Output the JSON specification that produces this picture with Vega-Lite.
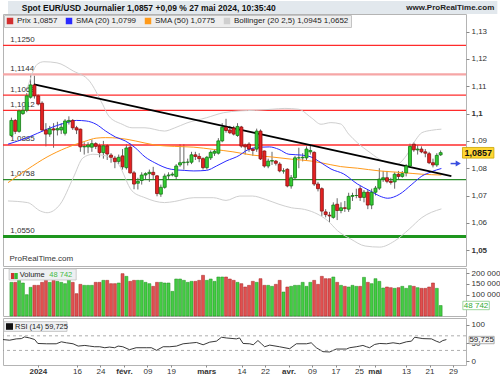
{
"$schema": "https://vega.github.io/schema/vega-lite/v6.json",
"padding": 0,
"background": "white",
"spacing": 0,
"data": {"values": [{"one": 1}]},
"config": {"font": "Liberation Sans", "view": {"stroke": "#b4b4b4", "strokeWidth": 1}, "axis": {"labelOverlap": false, "labelFlush": false, "labelBound": false}},
"datasets": {
"candles": [
{"i":-7,"o":1.0920,"h":1.0985,"l":1.0915,"c":1.0975,"v":156600},
{"i":-6,"o":1.0975,"h":1.0980,"l":1.0925,"c":1.0935,"v":156600},
{"i":-5,"o":1.0935,"h":1.1015,"l":1.0930,"c":1.1010,"v":165900},
{"i":-4,"o":1.1000,"h":1.1025,"l":1.0995,"c":1.1012,"v":153500},
{"i":-3,"o":1.1012,"h":1.1075,"l":1.1005,"c":1.1065,"v":99200},
{"i":-2,"o":1.1060,"h":1.1140,"l":1.1055,"c":1.1105,"v":133300},
{"i":-1,"o":1.1105,"h":1.1139,"l":1.1055,"c":1.1065,"v":142600},
{"i":0,"o":1.1065,"h":1.1070,"l":1.1030,"c":1.1035,"v":142600},
{"i":1,"o":1.1038,"h":1.1045,"l":1.0935,"c":1.0940,"v":156600},
{"i":2,"o":1.0940,"h":1.0965,"l":1.0880,"c":1.0925,"v":165900},
{"i":3,"o":1.0925,"h":1.0955,"l":1.0915,"c":1.0944,"v":156600},
{"i":4,"o":1.0944,"h":1.0965,"l":1.0875,"c":1.0940,"v":165900},
{"i":5,"o":1.0940,"h":1.0970,"l":1.0920,"c":1.0945,"v":161200},
{"i":6,"o":1.0940,"h":1.0965,"l":1.0925,"c":1.0950,"v":156600},
{"i":7,"o":1.0928,"h":1.0980,"l":1.0920,"c":1.0973,"v":150400},
{"i":8,"o":1.0970,"h":1.0990,"l":1.0960,"c":1.0975,"v":169000},
{"i":9,"o":1.0975,"h":1.0980,"l":1.0940,"c":1.0948,"v":156600},
{"i":10,"o":1.0948,"h":1.0955,"l":1.0925,"c":1.0940,"v":103900},
{"i":11,"o":1.0943,"h":1.0945,"l":1.0860,"c":1.0878,"v":147300},
{"i":12,"o":1.0878,"h":1.0895,"l":1.0850,"c":1.0880,"v":142600},
{"i":13,"o":1.0878,"h":1.0895,"l":1.0855,"c":1.0885,"v":142600},
{"i":14,"o":1.0877,"h":1.0905,"l":1.0860,"c":1.0890,"v":142600},
{"i":15,"o":1.0890,"h":1.0895,"l":1.0870,"c":1.0880,"v":156600},
{"i":16,"o":1.0882,"h":1.0890,"l":1.0840,"c":1.0857,"v":156600},
{"i":17,"o":1.0857,"h":1.0900,"l":1.0835,"c":1.0882,"v":165900},
{"i":18,"o":1.0882,"h":1.0888,"l":1.0830,"c":1.0852,"v":165900},
{"i":19,"o":1.0848,"h":1.0855,"l":1.0820,"c":1.0840,"v":150400},
{"i":20,"o":1.0837,"h":1.0845,"l":1.0800,"c":1.0824,"v":150400},
{"i":21,"o":1.0825,"h":1.0850,"l":1.0815,"c":1.0840,"v":153500},
{"i":22,"o":1.0845,"h":1.0870,"l":1.0795,"c":1.0805,"v":196900},
{"i":23,"o":1.0802,"h":1.0888,"l":1.0795,"c":1.0874,"v":184500},
{"i":24,"o":1.0877,"h":1.0890,"l":1.0780,"c":1.0783,"v":161200},
{"i":25,"o":1.0783,"h":1.0790,"l":1.0723,"c":1.0742,"v":165900},
{"i":26,"o":1.0745,"h":1.0765,"l":1.0722,"c":1.0752,"v":165900},
{"i":27,"o":1.0755,"h":1.0785,"l":1.0740,"c":1.0775,"v":165900},
{"i":28,"o":1.0775,"h":1.0785,"l":1.0760,"c":1.0780,"v":156600},
{"i":29,"o":1.0780,"h":1.0795,"l":1.0750,"c":1.0785,"v":150400},
{"i":30,"o":1.0785,"h":1.0805,"l":1.0760,"c":1.0776,"v":138000},
{"i":31,"o":1.0772,"h":1.0775,"l":1.0697,"c":1.0707,"v":156600},
{"i":32,"o":1.0705,"h":1.0740,"l":1.0695,"c":1.0730,"v":156600},
{"i":33,"o":1.0730,"h":1.0780,"l":1.0725,"c":1.0771,"v":153500},
{"i":34,"o":1.0772,"h":1.0785,"l":1.0760,"c":1.0775,"v":153500},
{"i":35,"o":1.0775,"h":1.0785,"l":1.0770,"c":1.0778,"v":114700},
{"i":36,"o":1.0770,"h":1.0815,"l":1.0760,"c":1.0808,"v":172100},
{"i":37,"o":1.0812,"h":1.0888,"l":1.0805,"c":1.0820,"v":172100},
{"i":38,"o":1.0820,"h":1.0888,"l":1.0795,"c":1.0822,"v":165900},
{"i":39,"o":1.0822,"h":1.0835,"l":1.0810,"c":1.0822,"v":156600},
{"i":40,"o":1.0822,"h":1.0860,"l":1.0815,"c":1.0849,"v":161200},
{"i":41,"o":1.0849,"h":1.0860,"l":1.0830,"c":1.0843,"v":161200},
{"i":42,"o":1.0843,"h":1.0855,"l":1.0822,"c":1.0835,"v":165900},
{"i":43,"o":1.0835,"h":1.0840,"l":1.0795,"c":1.0802,"v":189200},
{"i":44,"o":1.0802,"h":1.0845,"l":1.0795,"c":1.0840,"v":165900},
{"i":45,"o":1.0838,"h":1.0865,"l":1.0830,"c":1.0858,"v":172100},
{"i":46,"o":1.0855,"h":1.0870,"l":1.0845,"c":1.0862,"v":161200},
{"i":47,"o":1.0855,"h":1.0910,"l":1.0850,"c":1.0900,"v":181400},
{"i":48,"o":1.0900,"h":1.0965,"l":1.0895,"c":1.0950,"v":181400},
{"i":49,"o":1.0950,"h":1.0981,"l":1.0930,"c":1.0938,"v":181400},
{"i":50,"o":1.0940,"h":1.0955,"l":1.0925,"c":1.0930,"v":172100},
{"i":51,"o":1.0947,"h":1.0955,"l":1.0920,"c":1.0925,"v":165900},
{"i":52,"o":1.0920,"h":1.0965,"l":1.0915,"c":1.0953,"v":156600},
{"i":53,"o":1.0951,"h":1.0955,"l":1.0875,"c":1.0881,"v":150400},
{"i":54,"o":1.0885,"h":1.0890,"l":1.0850,"c":1.0878,"v":134900},
{"i":55,"o":1.0888,"h":1.0895,"l":1.0860,"c":1.0870,"v":142600},
{"i":56,"o":1.0870,"h":1.0875,"l":1.0845,"c":1.0865,"v":161200},
{"i":57,"o":1.0870,"h":1.0945,"l":1.0860,"c":1.0936,"v":156600},
{"i":58,"o":1.0936,"h":1.0942,"l":1.0830,"c":1.0834,"v":173600},
{"i":59,"o":1.0863,"h":1.0865,"l":1.0802,"c":1.0808,"v":142600},
{"i":60,"o":1.0808,"h":1.0835,"l":1.0800,"c":1.0826,"v":142600},
{"i":61,"o":1.0826,"h":1.0860,"l":1.0812,"c":1.0828,"v":138000},
{"i":62,"o":1.0826,"h":1.0830,"l":1.0810,"c":1.0818,"v":147300},
{"i":63,"o":1.0815,"h":1.0822,"l":1.0785,"c":1.0790,"v":165900},
{"i":64,"o":1.0790,"h":1.0800,"l":1.0780,"c":1.0790,"v":111600},
{"i":65,"o":1.0796,"h":1.0800,"l":1.0730,"c":1.0735,"v":134900},
{"i":66,"o":1.0735,"h":1.0775,"l":1.0725,"c":1.0765,"v":138000},
{"i":67,"o":1.0765,"h":1.0845,"l":1.0760,"c":1.0838,"v":142600},
{"i":68,"o":1.0838,"h":1.0875,"l":1.0800,"c":1.0838,"v":142600},
{"i":69,"o":1.0838,"h":1.0855,"l":1.0825,"c":1.0840,"v":156600},
{"i":70,"o":1.0838,"h":1.0880,"l":1.0830,"c":1.0870,"v":138000},
{"i":71,"o":1.0860,"h":1.0885,"l":1.0850,"c":1.0865,"v":156600},
{"i":72,"o":1.0858,"h":1.0862,"l":1.0735,"c":1.0742,"v":165900},
{"i":73,"o":1.0742,"h":1.0750,"l":1.0715,"c":1.0725,"v":147300},
{"i":74,"o":1.0725,"h":1.0730,"l":1.0625,"c":1.0643,"v":184500},
{"i":75,"o":1.0640,"h":1.0650,"l":1.0620,"c":1.0630,"v":173600},
{"i":76,"o":1.0628,"h":1.0640,"l":1.0601,"c":1.0625,"v":173600},
{"i":77,"o":1.0620,"h":1.0675,"l":1.0615,"c":1.0665,"v":181400},
{"i":78,"o":1.0668,"h":1.0690,"l":1.0610,"c":1.0645,"v":156600},
{"i":79,"o":1.0645,"h":1.0675,"l":1.0635,"c":1.0655,"v":142600},
{"i":80,"o":1.0655,"h":1.0680,"l":1.0640,"c":1.0653,"v":138000},
{"i":81,"o":1.0650,"h":1.0710,"l":1.0640,"c":1.0697,"v":134900},
{"i":82,"o":1.0697,"h":1.0710,"l":1.0680,"c":1.0700,"v":142600},
{"i":83,"o":1.0700,"h":1.0725,"l":1.0690,"c":1.0700,"v":138000},
{"i":84,"o":1.0725,"h":1.0735,"l":1.0680,"c":1.0693,"v":138000},
{"i":85,"o":1.0693,"h":1.0720,"l":1.0675,"c":1.0712,"v":179800},
{"i":86,"o":1.0712,"h":1.0720,"l":1.0650,"c":1.0665,"v":156600},
{"i":87,"o":1.0665,"h":1.0725,"l":1.0650,"c":1.0712,"v":150400},
{"i":88,"o":1.0712,"h":1.0735,"l":1.0700,"c":1.0727,"v":173600},
{"i":89,"o":1.0727,"h":1.0800,"l":1.0720,"c":1.0760,"v":161200},
{"i":90,"o":1.0760,"h":1.0790,"l":1.0750,"c":1.0765,"v":130200},
{"i":91,"o":1.0765,"h":1.0790,"l":1.0745,"c":1.0752,"v":134900},
{"i":92,"o":1.0752,"h":1.0765,"l":1.0740,"c":1.0748,"v":131800},
{"i":93,"o":1.0750,"h":1.0785,"l":1.0725,"c":1.0778,"v":128700},
{"i":94,"o":1.0778,"h":1.0790,"l":1.0760,"c":1.0770,"v":131800},
{"i":95,"o":1.0770,"h":1.0790,"l":1.0765,"c":1.0780,"v":138000},
{"i":96,"o":1.0783,"h":1.0815,"l":1.0770,"c":1.0808,"v":128700},
{"i":97,"o":1.0808,"h":1.0890,"l":1.0805,"c":1.0880,"v":141100},
{"i":98,"o":1.0888,"h":1.0895,"l":1.0860,"c":1.0867,"v":138000},
{"i":99,"o":1.0867,"h":1.0885,"l":1.0850,"c":1.0870,"v":131800},
{"i":100,"o":1.0870,"h":1.0880,"l":1.0855,"c":1.0860,"v":128700},
{"i":101,"o":1.0860,"h":1.0870,"l":1.0840,"c":1.0855,"v":128700},
{"i":102,"o":1.0853,"h":1.0860,"l":1.0815,"c":1.0820,"v":134900},
{"i":103,"o":1.0820,"h":1.0835,"l":1.0803,"c":1.0812,"v":153500},
{"i":104,"o":1.0812,"h":1.0855,"l":1.0805,"c":1.0847,"v":128700},
{"i":105,"o":1.0849,"h":1.0865,"l":1.0845,"c":1.0857,"v":48742}
],
"lines": [
{"s":"Boll","b":"up","i":-2.78,"p":1.1095},{"s":"Boll","b":"up","i":-0.23,"p":1.1181},{"s":"Boll","b":"up","i":1.48,"p":1.1190},{"s":"Boll","b":"up","i":4.88,"p":1.1186},{"s":"Boll","b":"up","i":9.14,"p":1.1156},{"s":"Boll","b":"up","i":13.38,"p":1.1119},{"s":"Boll","b":"up","i":16.8,"p":1.1034},{"s":"Boll","b":"up","i":18.4,"p":1.0991},{"s":"Boll","b":"up","i":21.9,"p":1.0961},{"s":"Boll","b":"up","i":24.46,"p":1.0948},{"s":"Boll","b":"up","i":27.85,"p":1.0948},{"s":"Boll","b":"up","i":32.96,"p":1.0936},{"s":"Boll","b":"up","i":35.5,"p":1.0947},{"s":"Boll","b":"up","i":38.83,"p":1.0966},{"s":"Boll","b":"up","i":43.94,"p":1.0985},{"s":"Boll","b":"up","i":48.28,"p":1.1003},{"s":"Boll","b":"up","i":52.6,"p":1.1010},{"s":"Boll","b":"up","i":56.7,"p":1.1012},{"s":"Boll","b":"up","i":61.04,"p":1.1016},{"s":"Boll","b":"up","i":64.36,"p":1.1019},{"s":"Boll","b":"up","i":67.93,"p":1.1016},{"s":"Boll","b":"up","i":71.25,"p":1.0985},{"s":"Boll","b":"up","i":73.8,"p":1.0961},{"s":"Boll","b":"up","i":76.36,"p":1.0967},{"s":"Boll","b":"up","i":78.9,"p":1.0962},{"s":"Boll","b":"up","i":81.0,"p":1.0925},{"s":"Boll","b":"up","i":83.3,"p":1.0893},{"s":"Boll","b":"up","i":86.6,"p":1.0857},{"s":"Boll","b":"up","i":89.9,"p":1.0826},{"s":"Boll","b":"up","i":93.5,"p":1.0814},{"s":"Boll","b":"up","i":96.0,"p":1.0845},{"s":"Boll","b":"up","i":98.6,"p":1.0906},{"s":"Boll","b":"up","i":100.1,"p":1.0930},{"s":"Boll","b":"up","i":102.65,"p":1.0939},{"s":"Boll","b":"up","i":105.2,"p":1.0943},
{"s":"Boll","b":"lo","i":-7.89,"p":1.0680},{"s":"Boll","b":"lo","i":-2.78,"p":1.0674},{"s":"Boll","b":"lo","i":0.61,"p":1.0643},{"s":"Boll","b":"lo","i":2.32,"p":1.0637},{"s":"Boll","b":"lo","i":5.72,"p":1.0668},{"s":"Boll","b":"lo","i":9.14,"p":1.0765},{"s":"Boll","b":"lo","i":11.69,"p":1.0838},{"s":"Boll","b":"lo","i":14.25,"p":1.0851},{"s":"Boll","b":"lo","i":17.64,"p":1.0845},{"s":"Boll","b":"lo","i":20.96,"p":1.0814},{"s":"Boll","b":"lo","i":24.46,"p":1.0717},{"s":"Boll","b":"lo","i":27.85,"p":1.0692},{"s":"Boll","b":"lo","i":32.96,"p":1.0674},{"s":"Boll","b":"lo","i":35.5,"p":1.0678},{"s":"Boll","b":"lo","i":40.6,"p":1.0692},{"s":"Boll","b":"lo","i":45.7,"p":1.0692},{"s":"Boll","b":"lo","i":49.0,"p":1.0682},{"s":"Boll","b":"lo","i":52.6,"p":1.0698},{"s":"Boll","b":"lo","i":55.9,"p":1.0698},{"s":"Boll","b":"lo","i":59.25,"p":1.0686},{"s":"Boll","b":"lo","i":62.8,"p":1.0668},{"s":"Boll","b":"lo","i":66.1,"p":1.0655},{"s":"Boll","b":"lo","i":69.5,"p":1.0649},{"s":"Boll","b":"lo","i":73.0,"p":1.0631},{"s":"Boll","b":"lo","i":75.6,"p":1.0607},{"s":"Boll","b":"lo","i":78.1,"p":1.0571},{"s":"Boll","b":"lo","i":81.5,"p":1.0541},{"s":"Boll","b":"lo","i":85.3,"p":1.0515},{"s":"Boll","b":"lo","i":89.1,"p":1.0511},{"s":"Boll","b":"lo","i":92.95,"p":1.0533},{"s":"Boll","b":"lo","i":96.8,"p":1.0577},{"s":"Boll","b":"lo","i":100.1,"p":1.0619},{"s":"Boll","b":"lo","i":105.2,"p":1.0651},
{"s":"SMA50","b":"m50","i":-7.89,"p":1.0747},{"s":"SMA50","b":"m50","i":-2.8,"p":1.0796},{"s":"SMA50","b":"m50","i":2.3,"p":1.0841},{"s":"SMA50","b":"m50","i":7.4,"p":1.0875},{"s":"SMA50","b":"m50","i":12.5,"p":1.0900},{"s":"SMA50","b":"m50","i":15.1,"p":1.0910},{"s":"SMA50","b":"m50","i":17.6,"p":1.0912},{"s":"SMA50","b":"m50","i":21,"p":1.0910},{"s":"SMA50","b":"m50","i":25.3,"p":1.0900},{"s":"SMA50","b":"m50","i":30.4,"p":1.0885},{"s":"SMA50","b":"m50","i":35.5,"p":1.0880},{"s":"SMA50","b":"m50","i":40.6,"p":1.0877},{"s":"SMA50","b":"m50","i":45.7,"p":1.0869},{"s":"SMA50","b":"m50","i":50.8,"p":1.0860},{"s":"SMA50","b":"m50","i":55.9,"p":1.0848},{"s":"SMA50","b":"m50","i":61,"p":1.0841},{"s":"SMA50","b":"m50","i":66.1,"p":1.0833},{"s":"SMA50","b":"m50","i":71.3,"p":1.0826},{"s":"SMA50","b":"m50","i":73.8,"p":1.0820},{"s":"SMA50","b":"m50","i":78.9,"p":1.0806},{"s":"SMA50","b":"m50","i":83.3,"p":1.0800},{"s":"SMA50","b":"m50","i":89.1,"p":1.0790},{"s":"SMA50","b":"m50","i":95,"p":1.0784},{"s":"SMA50","b":"m50","i":100.1,"p":1.0778},{"s":"SMA50","b":"m50","i":105.2,"p":1.0775},
{"s":"SMA20","b":"m20","i":-7.89,"p":1.0888},{"s":"SMA20","b":"m20","i":-2.8,"p":1.0912},{"s":"SMA20","b":"m20","i":2.3,"p":1.0943},{"s":"SMA20","b":"m20","i":7.4,"p":1.0967},{"s":"SMA20","b":"m20","i":10,"p":1.0975},{"s":"SMA20","b":"m20","i":12.5,"p":1.0973},{"s":"SMA20","b":"m20","i":15.1,"p":1.0961},{"s":"SMA20","b":"m20","i":17.6,"p":1.0936},{"s":"SMA20","b":"m20","i":20.2,"p":1.0914},{"s":"SMA20","b":"m20","i":22.7,"p":1.0900},{"s":"SMA20","b":"m20","i":25.3,"p":1.0875},{"s":"SMA20","b":"m20","i":27.9,"p":1.0841},{"s":"SMA20","b":"m20","i":30.4,"p":1.0820},{"s":"SMA20","b":"m20","i":34.7,"p":1.0796},{"s":"SMA20","b":"m20","i":38.1,"p":1.0792},{"s":"SMA20","b":"m20","i":40.6,"p":1.0790},{"s":"SMA20","b":"m20","i":43.9,"p":1.0792},{"s":"SMA20","b":"m20","i":46.5,"p":1.0808},{"s":"SMA20","b":"m20","i":49,"p":1.0826},{"s":"SMA20","b":"m20","i":52.6,"p":1.0848},{"s":"SMA20","b":"m20","i":54.1,"p":1.0863},{"s":"SMA20","b":"m20","i":56.7,"p":1.0875},{"s":"SMA20","b":"m20","i":60.3,"p":1.0878},{"s":"SMA20","b":"m20","i":62.8,"p":1.0869},{"s":"SMA20","b":"m20","i":65.4,"p":1.0851},{"s":"SMA20","b":"m20","i":68.7,"p":1.0848},{"s":"SMA20","b":"m20","i":71.2,"p":1.0841},{"s":"SMA20","b":"m20","i":73.8,"p":1.0820},{"s":"SMA20","b":"m20","i":76.4,"p":1.0797},{"s":"SMA20","b":"m20","i":79.7,"p":1.0779},{"s":"SMA20","b":"m20","i":83.3,"p":1.0742},{"s":"SMA20","b":"m20","i":86.6,"p":1.0717},{"s":"SMA20","b":"m20","i":89.1,"p":1.0698},{"s":"SMA20","b":"m20","i":91.2,"p":1.0690},{"s":"SMA20","b":"m20","i":94.2,"p":1.0704},{"s":"SMA20","b":"m20","i":97.5,"p":1.0741},{"s":"SMA20","b":"m20","i":100.1,"p":1.0771},{"s":"SMA20","b":"m20","i":102.6,"p":1.0787},{"s":"SMA20","b":"m20","i":105.2,"p":1.0799}
],
"trend": [{"i":-1.1,"p":1.1107},{"i":107.8,"p":1.0771}],
"levels": [
{"lv":1.125,"lab":"1,1250","k":"r"},{"lv":1.1144,"lab":"1,1144","k":"p"},{"lv":1.1068,"lab":"1,1068","k":"r"},{"lv":1.1012,"lab":"1,1012","k":"r"},{"lv":1.0885,"lab":"1,0885","k":"r"},{"lv":1.0758,"lab":"1,0758","k":"g"},{"lv":1.055,"lab":"1,0550","k":"G"}
],
"rsi": [
{"i":-7.89,"r":59.8},{"i":-6.2,"r":58},{"i":-4.5,"r":61.6},{"i":-3.2,"r":62.4},{"i":-2.4,"r":67},{"i":-1.1,"r":64.2},{"i":0.2,"r":59.8},{"i":1.0,"r":49.1},{"i":3.2,"r":48.2},{"i":5.7,"r":48.2},{"i":7,"r":53.6},{"i":8.3,"r":50.9},{"i":10,"r":48.2},{"i":11.3,"r":41.9},{"i":13,"r":43.7},{"i":14.2,"r":41.9},{"i":15.5,"r":40.1},{"i":16.8,"r":40.1},{"i":18.1,"r":37.4},{"i":19.3,"r":39.2},{"i":20.6,"r":37.4},{"i":21.5,"r":41.9},{"i":22.7,"r":40.1},{"i":24.4,"r":32},{"i":26.1,"r":37.4},{"i":28.7,"r":37.4},{"i":30,"r":37.4},{"i":31.3,"r":30.3},{"i":33,"r":40.1},{"i":34.7,"r":40.1},{"i":36.4,"r":41.9},{"i":38.1,"r":48.2},{"i":39.8,"r":50},{"i":41.5,"r":51.8},{"i":43.2,"r":45.5},{"i":44.9,"r":52.7},{"i":46.6,"r":55.4},{"i":47.9,"r":66.1},{"i":49.1,"r":64.2},{"i":51.7,"r":61.6},{"i":52.5,"r":64.2},{"i":53.4,"r":49.1},{"i":55.1,"r":48.2},{"i":56,"r":45.5},{"i":57.2,"r":57.1},{"i":58.1,"r":48.2},{"i":58.9,"r":40.1},{"i":60.2,"r":44.6},{"i":62.7,"r":40.1},{"i":65.3,"r":34.7},{"i":67,"r":48.2},{"i":69.6,"r":48.2},{"i":70.8,"r":50.9},{"i":72.1,"r":37.4},{"i":73.8,"r":26.6},{"i":75.5,"r":25.7},{"i":77.2,"r":33.8},{"i":79.8,"r":33.8},{"i":80.6,"r":37.4},{"i":82.3,"r":40.1},{"i":83.2,"r":41.9},{"i":84,"r":43.7},{"i":84.9,"r":40.1},{"i":85.7,"r":37.4},{"i":87,"r":46.4},{"i":88.3,"r":49.1},{"i":90,"r":48.2},{"i":91.7,"r":50.9},{"i":93.4,"r":48.2},{"i":95.1,"r":53.6},{"i":96.4,"r":55.4},{"i":97.2,"r":66.1},{"i":99.3,"r":62.4},{"i":101.5,"r":61.6},{"i":102.7,"r":55.4},{"i":103.6,"r":51.8},{"i":104.4,"r":57.1},{"i":105.3,"r":59.7}
],
"rsiLevels": [{"r":70},{"r":30}]
},
"vconcat": [
{
"width": 463, "height": 252,
"layer": [
{"data": {"name": "candles"}, "mark": {"type": "rule", "color": "#666666", "strokeWidth": 1}, "encoding": {"x": {"field": "i", "type": "quantitative", "scale": {"domain": [-7.889, 110.314], "nice": false, "zero": false}, "axis": null}, "y": {"field": "l", "type": "quantitative", "scale": {"domain": [1.04418, 1.13648], "nice": false, "zero": false}, "axis": {"orient": "right", "title": null, "values": [1.05, 1.06, 1.07, 1.08, 1.09, 1.1, 1.11, 1.12, 1.13], "tickCount": 40, "labelExpr": "replace(format(datum.value, '.2~f'), '.', ',')", "labelFontWeight": {"condition": {"test": "abs(datum.value - 1.1) < 0.0001 || abs(datum.value - 1.05) < 0.0001", "value": "bold"}, "value": "normal"}, "labelOverlap": false, "labelFlush": false, "labelFontSize": 8, "labelColor": "#333333", "tickColor": "#888888", "tickSize": 3, "labelPadding": 2, "domain": false, "grid": false}}, "y2": {"field": "h"}}},
{"mark": {"type": "rect", "fill": "#e2e8ed"}, "encoding": {"x": {"datum": -7.889, "type": "quantitative", "scale": {"domain": [-7.889, 110.314], "nice": false, "zero": false}, "axis": null}, "x2": {"datum": 119.8}, "y": {"datum": 1.14124, "type": "quantitative", "scale": {"domain": [1.04418, 1.13648], "nice": false, "zero": false}, "axis": {"title": null}}, "y2": {"datum": 1.13648}}},
{"data": {"name": "levels"}, "transform": [{"filter": "datum.k == 'r'"}], "mark": {"type": "rule", "color": "#ff2b2b", "strokeWidth": 1.3}, "encoding": {"y": {"field": "lv", "type": "quantitative", "scale": {"domain": [1.04418, 1.13648], "nice": false, "zero": false}, "axis": {"title": null}}}},
{"data": {"name": "levels"}, "transform": [{"filter": "datum.k == 'p'"}], "mark": {"type": "rule", "color": "#f6a6a6", "strokeWidth": 2.2}, "encoding": {"y": {"field": "lv", "type": "quantitative", "scale": {"domain": [1.04418, 1.13648], "nice": false, "zero": false}, "axis": {"title": null}}}},
{"data": {"name": "levels"}, "transform": [{"filter": "datum.k == 'g'"}], "mark": {"type": "rule", "color": "#2a8a2a", "strokeWidth": 1.2}, "encoding": {"y": {"field": "lv", "type": "quantitative", "scale": {"domain": [1.04418, 1.13648], "nice": false, "zero": false}, "axis": {"title": null}}}},
{"data": {"name": "levels"}, "transform": [{"filter": "datum.k == 'G'"}], "mark": {"type": "rule", "color": "#1e961e", "strokeWidth": 3}, "encoding": {"y": {"field": "lv", "type": "quantitative", "scale": {"domain": [1.04418, 1.13648], "nice": false, "zero": false}, "axis": {"title": null}}}},
{"data": {"name": "levels"}, "mark": {"type": "text", "align": "left", "baseline": "bottom", "dy": -1.5, "fontSize": 8, "color": "#333333"}, "encoding": {"x": {"datum": -7.3, "type": "quantitative", "scale": {"domain": [-7.889, 110.314], "nice": false, "zero": false}, "axis": null}, "y": {"field": "lv", "type": "quantitative", "scale": {"domain": [1.04418, 1.13648], "nice": false, "zero": false}, "axis": {"title": null}}, "text": {"field": "lab"}}},
{"data": {"name": "lines"}, "mark": {"type": "line", "strokeWidth": 1, "interpolate": "monotone"}, "encoding": {"x": {"field": "i", "type": "quantitative", "scale": {"domain": [-7.889, 110.314], "nice": false, "zero": false}, "axis": null}, "y": {"field": "p", "type": "quantitative", "scale": {"domain": [1.04418, 1.13648], "nice": false, "zero": false}, "axis": {"title": null}}, "detail": {"field": "b"}, "color": {"field": "s", "type": "nominal", "scale": {"domain": ["Prix", "SMA20", "SMA50", "Boll"], "range": ["#d23030", "#2a2aff", "#ff9a1a", "#cfcfcf"]}, "legend": {"orient": "top-left", "direction": "horizontal", "title": null, "offset": 1, "padding": 2, "fillColor": "#eeeeee", "strokeColor": "#c4c4c4", "labelFontSize": 8, "labelColor": "#222222", "labelFont": "Liberation Sans", "symbolType": "square", "symbolSize": 42, "columnPadding": 7, "labelOffset": 3, "labelExpr": "['Prix 1,0857','SMA (20) 1,0799','SMA (50) 1,0775','Bollinger (20 2,5) 1,0945 1,0652'][indexof(['Prix','SMA20','SMA50','Boll'], datum.label)]", "encode": {"symbols": {"update": {"fill": {"scale": "color", "field": "value"}, "fillOpacity": {"value": 1}, "strokeWidth": {"value": 0}}}}}}}},
{"data": {"name": "trend"}, "mark": {"type": "line", "color": "#000000", "strokeWidth": 1.8}, "encoding": {"x": {"field": "i", "type": "quantitative", "scale": {"domain": [-7.889, 110.314], "nice": false, "zero": false}, "axis": null}, "y": {"field": "p", "type": "quantitative", "scale": {"domain": [1.04418, 1.13648], "nice": false, "zero": false}, "axis": {"title": null}}}},
{"data": {"name": "candles"}, "mark": {"type": "bar", "width": 3, "strokeWidth": 0.8}, "encoding": {"x": {"field": "i", "type": "quantitative", "scale": {"domain": [-7.889, 110.314], "nice": false, "zero": false}, "axis": null}, "y": {"field": "o", "type": "quantitative", "scale": {"domain": [1.04418, 1.13648], "nice": false, "zero": false}, "axis": {"title": null}}, "y2": {"field": "c"}, "fill": {"condition": {"test": "datum.c >= datum.o", "value": "#33cc33"}, "value": "#e52222"}, "stroke": {"condition": {"test": "datum.c >= datum.o", "value": "#137a13"}, "value": "#8a1010"}}},
{"mark": {"type": "rule", "color": "#3a4fe0", "strokeWidth": 1.5}, "encoding": {"x": {"datum": 107.6, "type": "quantitative", "scale": {"domain": [-7.889, 110.314], "nice": false, "zero": false}, "axis": null}, "x2": {"datum": 109.3}, "y": {"datum": 1.0817, "type": "quantitative", "scale": {"domain": [1.04418, 1.13648], "nice": false, "zero": false}, "axis": {"title": null}}}},
{"mark": {"type": "point", "shape": "triangle-right", "filled": true, "size": 35, "color": "#3a4fe0", "opacity": 1}, "encoding": {"x": {"datum": 109.6, "type": "quantitative", "scale": {"domain": [-7.889, 110.314], "nice": false, "zero": false}, "axis": null}, "y": {"datum": 1.0817, "type": "quantitative", "scale": {"domain": [1.04418, 1.13648], "nice": false, "zero": false}, "axis": {"title": null}}}},
{"mark": {"type": "rect", "fill": "#ffd633", "stroke": "#c9a400", "strokeWidth": 0.8}, "encoding": {"x": {"datum": 110.7, "type": "quantitative", "scale": {"domain": [-7.889, 110.314], "nice": false, "zero": false}, "axis": null}, "x2": {"datum": 118.9}, "y": {"datum": 1.0876, "type": "quantitative", "scale": {"domain": [1.04418, 1.13648], "nice": false, "zero": false}, "axis": {"title": null}}, "y2": {"datum": 1.0837}}},
{"mark": {"type": "text", "text": "1,0857", "fontWeight": "bold", "fontSize": 9, "color": "#111111", "align": "center", "baseline": "middle"}, "encoding": {"x": {"datum": 114.8, "type": "quantitative", "scale": {"domain": [-7.889, 110.314], "nice": false, "zero": false}, "axis": null}, "y": {"datum": 1.08565, "type": "quantitative", "scale": {"domain": [1.04418, 1.13648], "nice": false, "zero": false}, "axis": {"title": null}}}},
{"mark": {"type": "text", "text": "Spot EUR/USD Journalier 1,0857 +0,09 % 27 mai 2024, 10:35:40", "fontWeight": "bold", "fontSize": 8.5, "color": "#111111", "align": "left", "baseline": "middle"}, "encoding": {"x": {"datum": -4.3, "type": "quantitative", "scale": {"domain": [-7.889, 110.314], "nice": false, "zero": false}, "axis": null}, "y": {"datum": 1.13875, "type": "quantitative", "scale": {"domain": [1.04418, 1.13648], "nice": false, "zero": false}, "axis": {"title": null}}}},
{"mark": {"type": "text", "text": "www.ProRealTime.com", "fontWeight": "bold", "fontSize": 8, "color": "#222222", "align": "right", "baseline": "middle"}, "encoding": {"x": {"datum": 119.0, "type": "quantitative", "scale": {"domain": [-7.889, 110.314], "nice": false, "zero": false}, "axis": null}, "y": {"datum": 1.13875, "type": "quantitative", "scale": {"domain": [1.04418, 1.13648], "nice": false, "zero": false}, "axis": {"title": null}}}},
{"mark": {"type": "text", "text": "ProRealTime.com", "fontSize": 8, "color": "#333333", "align": "left", "baseline": "middle"}, "encoding": {"x": {"datum": -7.5, "type": "quantitative", "scale": {"domain": [-7.889, 110.314], "nice": false, "zero": false}, "axis": null}, "y": {"datum": 1.04674, "type": "quantitative", "scale": {"domain": [1.04418, 1.13648], "nice": false, "zero": false}, "axis": {"title": null}}}}
]
},
{
"width": 463, "height": 48,
"layer": [
{"data": {"name": "candles"}, "mark": {"type": "bar", "width": 3, "strokeWidth": 0.5}, "encoding": {"x": {"field": "i", "type": "quantitative", "scale": {"domain": [-7.889, 110.314], "nice": false, "zero": false}, "axis": null}, "y": {"field": "v", "type": "quantitative", "scale": {"domain": [0, 223256], "nice": false, "zero": false}, "axis": {"orient": "right", "title": null, "values": [100000, 150000, 200000], "tickCount": 40, "labelExpr": "format(datum.value / 1000, 'd') + ' 000'", "labelOverlap": false, "labelFlush": false, "labelFontSize": 8, "labelColor": "#333333", "tickColor": "#888888", "tickSize": 3, "labelPadding": 2, "domain": false, "grid": false}}, "fill": {"condition": {"test": "datum.c >= datum.o", "value": "#44cc44"}, "value": "#e05050"}, "stroke": {"condition": {"test": "datum.c >= datum.o", "value": "#1f8f1f"}, "value": "#a52525"}}},
{"mark": {"type": "rect", "fill": "#eef0f2", "stroke": "#c0c0c0", "strokeWidth": 0.8}, "encoding": {"x": {"datum": -7.6, "type": "quantitative", "scale": {"domain": [-7.889, 110.314], "nice": false, "zero": false}, "axis": null}, "x2": {"datum": 9.9}, "y": {"datum": 218600, "type": "quantitative", "scale": {"domain": [0, 223256], "nice": false, "zero": false}, "axis": {"title": null}}, "y2": {"datum": 167400}}},
{"mark": {"type": "rect", "fill": "#d03030"}, "encoding": {"x": {"datum": -7.12, "type": "quantitative", "scale": {"domain": [-7.889, 110.314], "nice": false, "zero": false}, "axis": null}, "x2": {"datum": -6.23}, "y": {"datum": 200000, "type": "quantitative", "scale": {"domain": [0, 223256], "nice": false, "zero": false}, "axis": {"title": null}}, "y2": {"datum": 172000}}},
{"mark": {"type": "rect", "fill": "#33bb33"}, "encoding": {"x": {"datum": -6.23, "type": "quantitative", "scale": {"domain": [-7.889, 110.314], "nice": false, "zero": false}, "axis": null}, "x2": {"datum": -5.34}, "y": {"datum": 200000, "type": "quantitative", "scale": {"domain": [0, 223256], "nice": false, "zero": false}, "axis": {"title": null}}, "y2": {"datum": 172000}}},
{"mark": {"type": "text", "text": "Volume", "fontSize": 7.5, "color": "#222222", "align": "left", "baseline": "middle"}, "encoding": {"x": {"datum": -4.83, "type": "quantitative", "scale": {"domain": [-7.889, 110.314], "nice": false, "zero": false}, "axis": null}, "y": {"datum": 193000, "type": "quantitative", "scale": {"domain": [0, 223256], "nice": false, "zero": false}, "axis": {"title": null}}}},
{"mark": {"type": "text", "text": "48 742", "fontSize": 7.5, "color": "#44bb44", "align": "left", "baseline": "middle"}, "encoding": {"x": {"datum": 2.9, "type": "quantitative", "scale": {"domain": [-7.889, 110.314], "nice": false, "zero": false}, "axis": null}, "y": {"datum": 193000, "type": "quantitative", "scale": {"domain": [0, 223256], "nice": false, "zero": false}, "axis": {"title": null}}}},
{"mark": {"type": "rect", "fill": "#ffffff", "stroke": "#88cc88", "strokeWidth": 0.8}, "encoding": {"x": {"datum": 110.8, "type": "quantitative", "scale": {"domain": [-7.889, 110.314], "nice": false, "zero": false}, "axis": null}, "x2": {"datum": 117.7}, "y": {"datum": 68400, "type": "quantitative", "scale": {"domain": [0, 223256], "nice": false, "zero": false}, "axis": {"title": null}}, "y2": {"datum": 29300}}},
{"mark": {"type": "text", "text": "48 742", "fontSize": 8, "color": "#33aa33", "align": "center", "baseline": "middle"}, "encoding": {"x": {"datum": 114.25, "type": "quantitative", "scale": {"domain": [-7.889, 110.314], "nice": false, "zero": false}, "axis": null}, "y": {"datum": 48800, "type": "quantitative", "scale": {"domain": [0, 223256], "nice": false, "zero": false}, "axis": {"title": null}}}}
]
},
{
"width": 463, "height": 47,
"layer": [
{"data": {"name": "rsi"}, "mark": {"type": "line", "color": "#222222", "strokeWidth": 0.9}, "encoding": {"x": {"field": "i", "type": "quantitative", "scale": {"domain": [-7.889, 110.314], "nice": false, "zero": false}, "axis": {"orient": "bottom", "title": null, "values": [1, 11, 17, 23, 29, 35, 44, 53, 59, 65, 71, 77, 83, 87, 95, 101, 107], "tickCount": 40, "labelExpr": "['2024','16','24','févr.','09','19','mars','14','22','avr.','09','17','25','mai','13','21','29'][indexof([1,11,17,23,29,35,44,53,59,65,71,77,83,87,95,101,107], datum.value)]", "labelFontWeight": {"condition": {"test": "indexof([1,23,44,65,87], datum.value) >= 0", "value": "bold"}, "value": "normal"}, "labelOverlap": false, "labelFlush": false, "labelFontSize": 8, "labelColor": "#333333", "tickColor": "#888888", "tickSize": 2, "labelPadding": 0, "domain": false, "grid": false}}, "y": {"field": "r", "type": "quantitative", "scale": {"domain": [-9.9, 118.8], "nice": false, "zero": false}, "axis": {"orient": "right", "title": null, "values": [0, 50, 100], "tickCount": 40, "labelOverlap": false, "labelFlush": false, "labelFontSize": 8, "labelColor": "#333333", "tickColor": "#888888", "tickSize": 3, "labelPadding": 2, "domain": false, "grid": false}}}},
{"data": {"name": "rsiLevels"}, "mark": {"type": "rule", "color": "#999999", "strokeWidth": 0.8, "strokeDash": [3, 3]}, "encoding": {"y": {"field": "r", "type": "quantitative", "scale": {"domain": [-9.9, 118.8], "nice": false, "zero": false}, "axis": {"title": null}}}},
{"mark": {"type": "rect", "fill": "#eef0f2", "stroke": "#c0c0c0", "strokeWidth": 0.8}, "encoding": {"x": {"datum": -7.63, "type": "quantitative", "scale": {"domain": [-7.889, 110.314], "nice": false, "zero": false}, "axis": {"title": null}}, "x2": {"datum": 8.45}, "y": {"datum": 108.8, "type": "quantitative", "scale": {"domain": [-9.9, 118.8], "nice": false, "zero": false}, "axis": {"title": null}}, "y2": {"datum": 82}}},
{"mark": {"type": "rect", "fill": "#111111"}, "encoding": {"x": {"datum": -7.12, "type": "quantitative", "scale": {"domain": [-7.889, 110.314], "nice": false, "zero": false}, "axis": {"title": null}}, "x2": {"datum": -5.34}, "y": {"datum": 104.5, "type": "quantitative", "scale": {"domain": [-9.9, 118.8], "nice": false, "zero": false}, "axis": {"title": null}}, "y2": {"datum": 86.5}}},
{"mark": {"type": "text", "text": "RSI (14)  59,725", "fontSize": 7.5, "color": "#222222", "align": "left", "baseline": "middle"}, "encoding": {"x": {"datum": -4.83, "type": "quantitative", "scale": {"domain": [-7.889, 110.314], "nice": false, "zero": false}, "axis": {"title": null}}, "y": {"datum": 95.4, "type": "quantitative", "scale": {"domain": [-9.9, 118.8], "nice": false, "zero": false}, "axis": {"title": null}}}},
{"mark": {"type": "rect", "fill": "#f6f6f6", "stroke": "#999999", "strokeWidth": 0.8}, "encoding": {"x": {"datum": 111.1, "type": "quantitative", "scale": {"domain": [-7.889, 110.314], "nice": false, "zero": false}, "axis": {"title": null}}, "x2": {"datum": 117.5}, "y": {"datum": 68.6, "type": "quantitative", "scale": {"domain": [-9.9, 118.8], "nice": false, "zero": false}, "axis": {"title": null}}, "y2": {"datum": 48.3}}},
{"mark": {"type": "text", "text": "59,725", "fontSize": 8, "color": "#222222", "align": "center", "baseline": "middle"}, "encoding": {"x": {"datum": 114.3, "type": "quantitative", "scale": {"domain": [-7.889, 110.314], "nice": false, "zero": false}, "axis": {"title": null}}, "y": {"datum": 58.4, "type": "quantitative", "scale": {"domain": [-9.9, 118.8], "nice": false, "zero": false}, "axis": {"title": null}}}}
]
}
]
}
